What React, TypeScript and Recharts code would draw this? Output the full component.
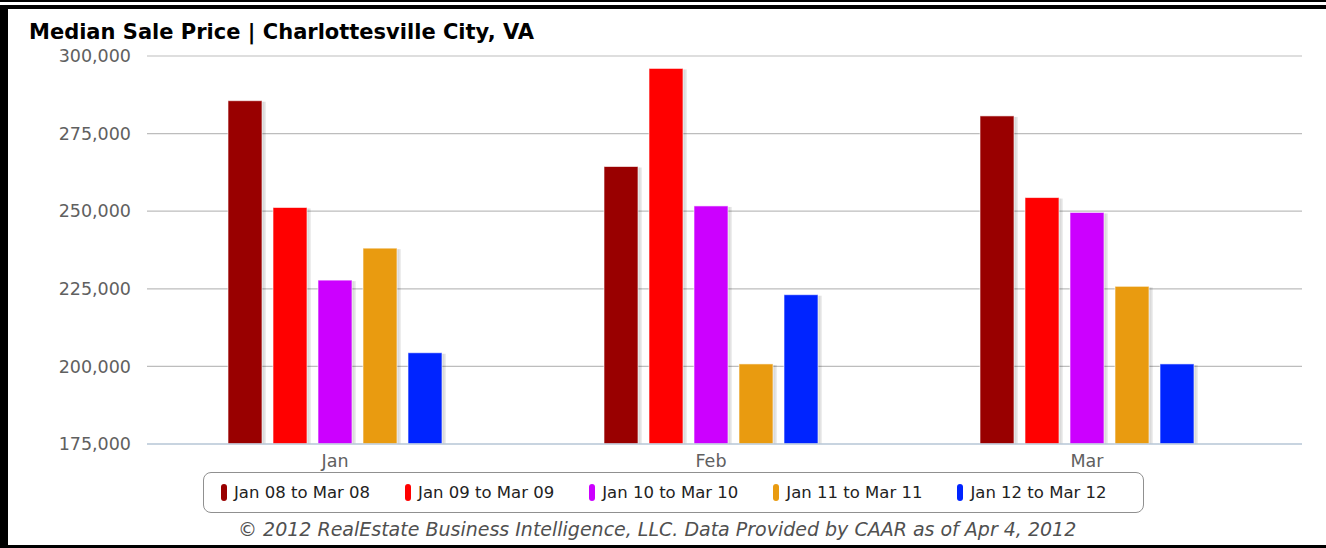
import React from 'react';
import { BarChart, Bar, XAxis, YAxis, CartesianGrid, Legend } from 'recharts';

const months = ['Jan', 'Feb', 'Mar'];
const seriesNames = ['Jan 08 to Mar 08', 'Jan 09 to Mar 09', 'Jan 10 to Mar 10', 'Jan 11 to Mar 11', 'Jan 12 to Mar 12'];
const jan08ToMar08 = [285600, 264400, 280700];
const jan09ToMar09 = [251200, 296000, 254400];
const jan10ToMar10 = [227800, 251700, 249600];
const jan11ToMar11 = [238100, 200800, 225800];
const jan12ToMar12 = [204400, 223100, 200800];
const yTicks = [175000, 200000, 225000, 250000, 275000, 300000];

const seriesValues = [jan08ToMar08, jan09ToMar09, jan10ToMar10, jan11ToMar11, jan12ToMar12];
const colors = ['#990000', '#ff0000', '#cc00ff', '#e99b10', '#0024ff'];
const keys = ['s0', 's1', 's2', 's3', 's4'];

const data = months.map((m, i) => {
  const row: any = { month: m };
  keys.forEach((k, j) => { row[k] = seriesValues[j][i]; });
  return row;
});

const FONT = '"DejaVu Sans", sans-serif';

// bar with a soft shadow on the right, like the old highcharts look
const ShadowBar = (props: any) => {
  const { x, y, width, height, fill } = props;
  if (!height || height <= 0) return null;
  return (
    <g>
      <rect x={x + 1} y={y + 1} width={width + 3} height={height - 1} fill="#000" fillOpacity={0.07} />
      <rect x={x + 1} y={y + 1} width={width + 1.5} height={height - 1} fill="#000" fillOpacity={0.08} />
      <rect x={x} y={y} width={width} height={height} fill={fill} stroke="#ffffff" strokeOpacity={0.6} strokeWidth={1} />
    </g>
  );
};

const LegendBox = () => (
  <div
    style={{
      boxSizing: 'border-box',
      width: 941,
      height: 41,
      border: '1px solid #909090',
      borderRadius: 8,
      display: 'flex',
      alignItems: 'center',
      paddingLeft: 17,
      fontFamily: FONT,
      fontSize: 16.5,
      color: '#222',
      background: '#fff',
    }}
  >
    {seriesNames.map((name, i) => (
      <div key={name} style={{ display: 'flex', alignItems: 'center', marginRight: 35 }}>
        <span style={{ display: 'inline-block', width: 6, height: 17, borderRadius: 3, background: colors[i], marginRight: 7 }} />
        <span style={{ whiteSpace: 'nowrap' }}>{name}</span>
      </div>
    ))}
  </div>
);

export default function App() {
  return (
    <div style={{ position: 'absolute', left: 0, top: 0, width: 1326, height: 548, background: '#fff', overflow: 'hidden' }}>
      <div style={{ position: 'absolute', left: 0, top: 0, width: 1326, height: 2, background: '#000' }} />
      <div
        style={{
          position: 'absolute',
          left: 0,
          top: 5,
          width: 1400,
          height: 543,
          boxSizing: 'border-box',
          borderTop: '4px solid #000',
          borderLeft: '8px solid #000',
          borderBottom: '3px solid #000',
        }}
      />
      <div
        style={{
          position: 'absolute',
          left: 29,
          top: 22,
          fontFamily: FONT,
          fontWeight: 'bold',
          fontSize: 21,
          lineHeight: 1,
          color: '#000',
          whiteSpace: 'nowrap',
        }}
      >
        Median Sale Price | Charlottesville City, VA
      </div>
      <div style={{ position: 'absolute', left: 0, top: 0 }}>
        <BarChart
          width={1326}
          height={548}
          data={data}
          margin={{ top: 56, right: 24, bottom: 74, left: 0 }}
          barSize={34}
          barGap={11}
        >
          <CartesianGrid vertical={false} stroke="#bdbdbd" strokeWidth={1.2} />
          <XAxis
            dataKey="month"
            height={30}
            padding={{ left: 0, right: 27 }}
            axisLine={{ stroke: '#c0d0e0', strokeWidth: 1.5 }}
            tickLine={false}
            tickSize={0}
            tickMargin={11}
            tick={{ fill: '#606060', fontSize: 17.5, fontFamily: FONT }}
          />
          <YAxis
            width={147}
            domain={[175000, 300000]}
            ticks={yTicks}
            axisLine={false}
            tickLine={false}
            tickSize={0}
            tickMargin={16}
            tickFormatter={(v: number) => v.toLocaleString('en-US')}
            tick={{ fill: '#606060', fontSize: 17.5, fontFamily: FONT }}
          />
          <Legend
            layout="horizontal"
            verticalAlign="middle"
            align="center"
            wrapperStyle={{ left: 203, top: 472, width: 941, height: 41 }}
            content={() => <LegendBox />}
          />
          {keys.map((k, i) => (
            <Bar
              key={k}
              dataKey={k}
              name={seriesNames[i]}
              fill={colors[i]}
              shape={(p: any) => <ShadowBar {...p} />}
              isAnimationActive={false}
            />
          ))}
        </BarChart>
      </div>
      <div
        style={{
          position: 'absolute',
          left: 238,
          top: 520,
          fontFamily: FONT,
          fontStyle: 'italic',
          fontSize: 19,
          lineHeight: 1,
          color: '#505050',
          whiteSpace: 'nowrap',
        }}
      >
        © 2012 RealEstate Business Intelligence, LLC. Data Provided by CAAR as of Apr 4, 2012
      </div>
    </div>
  );
}
